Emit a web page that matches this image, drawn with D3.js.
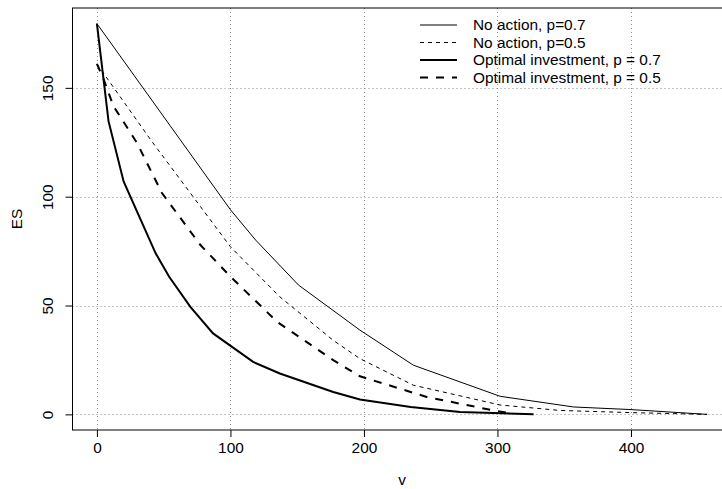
<!DOCTYPE html>
<html>
<head>
<meta charset="utf-8">
<script src="https://cdn.jsdelivr.net/npm/d3@7"></script>
<style>
    body { margin: 0; background: #fff; }
    svg { display: block; font-family: "Liberation Sans", Arial, Helvetica, sans-serif; }
</style>
</head>
<body>
<div id="chart"></div>
<script>
// Expected shortfall vs v, four scenarios
var noAction07V = [0, 100, 119, 151, 197, 237, 302, 357, 400, 457];
var noAction07ES = [179.5, 94, 80, 59.4, 38.7, 22.6, 8.3, 3.4, 2.2, 0];

var noAction05V = [0, 41, 100, 137, 177, 197, 237, 302, 347, 400, 457];
var noAction05ES = [161, 125.5, 77, 54, 34, 25.6, 13.4, 4.3, 1.8, 0.8, 0];

var optimal07V = [0, 8.7, 20, 44, 54, 70, 87, 117, 137, 177, 197, 235, 272, 327];
var optimal07ES = [179.5, 134.7, 107, 74, 63.3, 49.4, 37.2, 24.1, 18.8, 10.3, 6.8, 3.4, 1.1, 0];

var optimal05V = [0, 5, 12.4, 30, 48.7, 77.4, 100, 135, 177, 197, 247, 297, 312];
var optimal05ES = [161, 154, 141.6, 124.7, 101.7, 77.9, 63.3, 42.5, 24.9, 17.5, 8, 1.8, 0.3];

var seriesNames = ["No action, p=0.7", "No action, p=0.5", "Optimal investment, p = 0.7", "Optimal investment, p = 0.5"];
var xTicks = [0, 100, 200, 300, 400];
var yTicks = [0, 50, 100, 150];

var series = [
    { name: seriesNames[0], v: noAction07V, es: noAction07ES, width: 1, dash: null },
    { name: seriesNames[1], v: noAction05V, es: noAction05ES, width: 1, dash: "4,4" },
    { name: seriesNames[2], v: optimal07V, es: optimal07ES, width: 2, dash: null },
    { name: seriesNames[3], v: optimal05V, es: optimal05ES, width: 2, dash: "8,8" }
];

var width = 722, height = 489, fontSize = 15.4;
var box = { left: 72.5, right: 731.5, top: 8, bottom: 430 };

var svg = d3.select("#chart").append("svg")
    .attr("width", width)
    .attr("height", height);

// R style 4% padding on both axes
var xMax = d3.max(series, function (s) { return d3.max(s.v); }),
    yMax = d3.max(series, function (s) { return d3.max(s.es); });
var xPad = xMax * 0.04, yPad = yMax * 0.04;

var x = d3.scaleLinear().domain([-xPad, xMax + xPad]).range([box.left, box.right]);
var y = d3.scaleLinear().domain([-yPad, yMax + yPad]).range([box.bottom, box.top]);

// Grid lines (dotted gray)
svg.append("g").selectAll("line")
    .data(xTicks)
    .enter().append("line")
    .attr("x1", function (d) { return Math.round(x(d)) + 0.5; })
    .attr("x2", function (d) { return Math.round(x(d)) + 0.5; })
    .attr("y1", box.top)
    .attr("y2", box.bottom)
    .attr("stroke", "#8c8c8c")
    .attr("stroke-dasharray", "1,3");

svg.append("g").selectAll("line")
    .data(yTicks)
    .enter().append("line")
    .attr("y1", function (d) { return Math.round(y(d)) + 0.5; })
    .attr("y2", function (d) { return Math.round(y(d)) + 0.5; })
    .attr("x1", box.left)
    .attr("x2", box.right)
    .attr("stroke", "#8c8c8c")
    .attr("stroke-dasharray", "1,3");

// Series lines
var line = d3.line()
    .x(function (d) { return x(d[0]); })
    .y(function (d) { return y(d[1]); });

series.forEach(function (s) {
    svg.append("path")
        .datum(d3.zip(s.v, s.es))
        .attr("fill", "none")
        .attr("stroke", "#000")
        .attr("stroke-width", s.width)
        .attr("stroke-dasharray", s.dash)
        .attr("d", line);
});

// Box
svg.append("rect")
    .attr("x", box.left)
    .attr("y", box.top)
    .attr("width", box.right - box.left)
    .attr("height", box.bottom - box.top)
    .attr("fill", "none")
    .attr("stroke", "#000");

// X axis
var axisX = svg.append("g")
    .attr("transform", "translate(0," + box.bottom + ")")
    .call(d3.axisBottom(x).tickValues(xTicks).tickSize(7).tickPadding(5).tickFormat(d3.format("d")));
axisX.select(".domain").remove();
axisX.selectAll("text").attr("font-size", fontSize).attr("font-family", null).attr("fill", "#000");

// Y axis, labels rotated like R
var axisY = svg.append("g")
    .attr("transform", "translate(" + box.left + ",0)")
    .call(d3.axisLeft(y).tickValues(yTicks).tickSize(7).tickFormat(d3.format("d")));
axisY.select(".domain").remove();
axisY.selectAll("text")
    .attr("font-size", fontSize)
    .attr("font-family", null)
    .attr("fill", "#000")
    .attr("x", null)
    .attr("dy", null)
    .attr("text-anchor", "middle")
    .attr("transform", "translate(-19.5,0) rotate(-90)");

// Axis labels
svg.append("text")
    .attr("x", (box.left + box.right) / 2)
    .attr("y", 485)
    .attr("text-anchor", "middle")
    .attr("font-size", fontSize)
    .text("v");

svg.append("text")
    .attr("transform", "translate(22," + ((box.top + box.bottom) / 2) + ") rotate(-90)")
    .attr("text-anchor", "middle")
    .attr("font-size", fontSize)
    .text("ES");

// Legend
var legend = svg.append("g").attr("transform", "translate(420,25)");
series.forEach(function (s, i) {
    var item = legend.append("g").attr("transform", "translate(0," + (i * 17.5) + ")");
    item.append("line")
        .attr("x1", 0)
        .attr("x2", 37)
        .attr("stroke", "#000")
        .attr("stroke-width", s.width)
        .attr("stroke-dasharray", s.dash);
    item.append("text")
        .attr("x", 53)
        .attr("dy", "0.35em")
        .attr("font-size", fontSize)
        .text(s.name);
});
</script>
</body>
</html>
